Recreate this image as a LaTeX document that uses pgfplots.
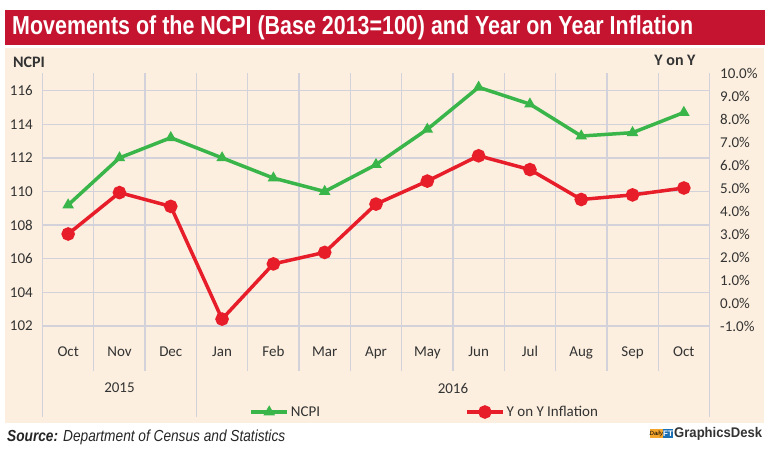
\documentclass[border=0pt]{standalone}
\usepackage{pgfplots}
\usepackage{pgfplotstable}
\pgfplotsset{compat=1.18}
\usepackage{fontspec}
\setmainfont{Carlito}
\newfontfamily\headfont{Liberation Sans}
\definecolor{titlered}{HTML}{C4142F}
\definecolor{cream}{HTML}{FCEFDF}
\definecolor{gridc}{HTML}{D3D2DA}
\definecolor{ncpigreen}{HTML}{3AB54A}
\definecolor{yoyred}{HTML}{E71D2A}
\definecolor{txt}{HTML}{333333}
\definecolor{logoorange}{HTML}{F2A42B}
\definecolor{logoblue}{HTML}{1B6FB5}
\pgfplotstableread{
x ncpi yoy
0 109.2 3.0
1 112.0 4.8
2 113.2 4.2
3 112.0 -0.7
4 110.8 1.7
5 110.0 2.2
6 111.6 4.3
7 113.7 5.3
8 116.2 6.4
9 115.2 5.8
10 113.3 4.5
11 113.5 4.7
12 114.7 5.0
}\datatable
\newcommand{\lblfont}{\fontsize{15bp}{15bp}\selectfont}
\begin{document}
\begin{tikzpicture}
% canvas and panels
\fill[white] (0bp,0bp) rectangle (770bp,458bp);
\fill[titlered] (5bp,413bp) rectangle (765bp,448bp);
\fill[cream] (5bp,35bp) rectangle (764bp,410bp);
\node[anchor=west, text=white, inner sep=0pt] at (12bp,430bp)
  {\resizebox{681bp}{\height}{\headfont\fontsize{26bp}{26bp}\selectfont\bfseries Movements of the NCPI (Base 2013=100) and Year on Year Inflation}};
% axis titles
\node[text=txt, font=\fontsize{16bp}{16bp}\selectfont\bfseries] at (29bp,396bp) {NCPI};
\node[text=txt, font=\fontsize{16bp}{16bp}\selectfont\bfseries] at (675bp,398bp) {Y on Y};
% left axis
\begin{axis}[
  at={(42.5bp,132bp)}, anchor=south west,
  width=667bp, height=253bp, scale only axis,
  xmin=-0.5, xmax=12.5, ymin=102, ymax=117.05,
  axis line style={draw=none},
  xtick={0,...,12},
  xticklabels={Oct,Nov,Dec,Jan,Feb,Mar,Apr,May,Jun,Jul,Aug,Sep,Oct},
  minor xtick={-0.5,0.5,...,12.5},
  xminorgrids, ymajorgrids,
  ytick={102,104,...,116},
  yticklabels={102,104,106,108,110,112,114,116},
  /pgf/number format/assume math mode=true,
  major tick length=0pt, minor tick length=0pt,
  grid style={gridc, line width=1.3bp},
  minor grid style={gridc, line width=1.3bp},
  tick label style={font=\lblfont, text=txt},
  xticklabel style={anchor=base, inner sep=0pt, yshift=-31bp},
  yticklabel style={anchor=east, inner sep=0pt, xshift=-9.5bp},
  clip=false,
]
\pgfplotsinvokeforeach{-0.5,0.5,1.5,2.5,3.5,4.5,5.5,6.5,7.5,8.5,9.5,10.5,11.5,12.5}{
  \draw[gridc, line width=1.3bp] (axis cs:#1,102) -- ([yshift=-45bp]axis cs:#1,102);
}
\pgfplotsinvokeforeach{-0.5,2.5,12.5}{
  \draw[gridc, line width=1.3bp] (axis cs:#1,102) -- ([yshift=-91bp]axis cs:#1,102);
}
\node[text=txt, font=\lblfont] at ([yshift=-62bp]axis cs:1,102) {2015};
\node[text=txt, font=\lblfont] at ([yshift=-62bp]axis cs:7.5,102) {2016};
\addplot[ncpigreen, line width=3.5bp, mark=triangle*, mark size=3.2bp,
  mark options={solid, fill=ncpigreen}] table[x=x, y=ncpi] {\datatable};
\end{axis}
% right axis
\begin{axis}[
  at={(42.5bp,132bp)}, anchor=south west,
  width=667bp, height=253bp, scale only axis,
  xmin=-0.5, xmax=12.5, ymin=-1, ymax=10,
  axis x line=none, axis y line*=right,
  axis line style={draw=none},
  ytick={-1,0,...,10},
  yticklabels={-1.0\%,0.0\%,1.0\%,2.0\%,3.0\%,4.0\%,5.0\%,6.0\%,7.0\%,8.0\%,9.0\%,10.0\%},
  /pgf/number format/assume math mode=true,
  major tick length=0pt,
  tick label style={font=\lblfont, text=txt},
  yticklabel style={anchor=west, inner sep=0pt, xshift=10.5bp},
  clip=false,
  legend columns=2,
  legend style={at={(axis description cs:0.31,-0.34)}, anchor=west,
    draw=none, fill=none, inner sep=0pt, font=\lblfont, text=txt,
    /tikz/every even column/.append style={column sep=143bp}},
  legend image code/.code={\draw[mark repeat=2, mark phase=2, #1] plot coordinates {(0bp,0bp) (18bp,0bp) (36bp,0bp)};},
]
\addlegendimage{ncpigreen, line width=3.5bp, mark=triangle*, mark size=3.2bp, mark options={solid, fill=ncpigreen}}
\addlegendentry{NCPI}
\addplot[yoyred, line width=3.5bp, mark=*, mark size=5bp,
  mark options={solid, fill=yoyred}] table[x=x, y=yoy] {\datatable};
\addlegendentry{Y on Y Inflation}
\end{axis}
% footer
\node[anchor=west, inner sep=0pt, text=black!85] at (7bp,21bp)
  {\resizebox{278bp}{\height}{\headfont\fontsize{16bp}{16bp}\selectfont\textbf{\textit{Source:}} \textit{Department of Census and Statistics}}};
\fill[logoorange] (650bp,20bp) rectangle (663bp,29bp);
\fill[logoblue] (663bp,20bp) rectangle (673bp,29bp);
\node[inner sep=0pt, text=black] at (656.5bp,24.5bp) {\headfont\fontsize{6bp}{6bp}\selectfont\textit{Daily}};
\node[inner sep=0pt, text=white] at (668bp,24.5bp) {\headfont\fontsize{8bp}{8bp}\selectfont\bfseries FT};
\node[anchor=west, inner sep=0pt, text=black!80] at (674bp,24.5bp)
  {\resizebox{88bp}{\height}{\headfont\fontsize{14bp}{14bp}\selectfont\bfseries GraphicsDesk}};
\end{tikzpicture}
\end{document}
